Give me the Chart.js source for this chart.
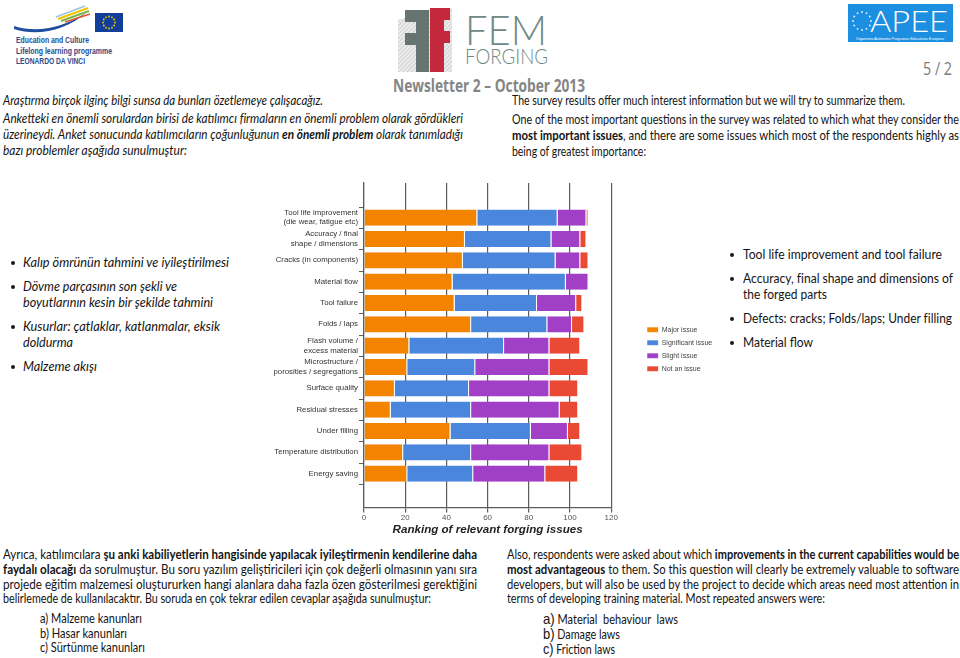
<!DOCTYPE html>
<html lang="tr">
<head>
<meta charset="utf-8">
<title>FEM Forging - Newsletter 2</title>
<script src="https://cdn.jsdelivr.net/npm/chart.js@4.4.1/dist/chart.umd.min.js"></script>
<style>
  html, body { margin: 0; padding: 0; background: #fff; }
  body { width: 960px; height: 658px; position: relative; overflow: hidden; font-family: Lato, 'Open Sans', sans-serif; color: #141414; }
  .ln { position: absolute; white-space: nowrap; font-size: 12.5px; line-height: 16px; transform-origin: 0 50%; }
  .it { font-style: italic; }
  .dot { position: absolute; width: 4px; height: 4px; border-radius: 50%; background: #1a1a1a; }
  .llp { position: absolute; left: 16px; white-space: nowrap; font: bold 8.5px 'Liberation Sans', Arial, sans-serif; line-height: 10px; color: #2b4c8c; transform-origin: 0 50%; }
  #issuesChart { position: absolute; left: 262px; top: 175px; }
</style>
</head>
<body>

<!-- logos -->
<svg style="position:absolute;left:8px;top:2px" width="120" height="34">
  <path d="M6 24 C 28 31, 52 27, 78 11 C 58 28, 30 35, 6 27 Z" fill="#1f4e9e"/>
  <path d="M50 17 L 80 6" stroke="#f2c400" stroke-width="2.2"/>
  <path d="M53 19 L 81 9" stroke="#7ab648" stroke-width="2"/>
  <path d="M57 20 L 82 12" stroke="#e4572e" stroke-width="1.6"/>
  <path d="M48 15 L 77 4" stroke="#9cc3e6" stroke-width="1.4"/>
  <rect x="87" y="11" width="28" height="19" fill="#123e99"/>
  <g fill="#f4d000" id="eustars"></g>
</svg>
<div class="llp" style="top:34.5px" data-w="73">Education and Culture</div>
<div class="llp" style="top:45.5px" data-w="96">Lifelong learning programme</div>
<div class="llp" style="top:56px" data-w="69">LEONARDO DA VINCI</div>

<svg style="position:absolute;left:396px;top:6px" width="60" height="68">
  <defs>
    <pattern id="hatch" width="3" height="3" patternUnits="userSpaceOnUse" patternTransform="rotate(45)">
      <rect width="3" height="3" fill="#ececec"/>
      <line x1="0" y1="0" x2="0" y2="3" stroke="#bdbdbd" stroke-width="1.2"/>
    </pattern>
  </defs>
  <polygon points="2,14 40,2 56,2 56,66 2,66" fill="url(#hatch)"/>
  <path d="M9 4 H33 V66 H20 V39 H9 V27 H20 V16 H9 Z" fill="#66746f"/>
  <path d="M34 2 H54 V14 H48 V25 H54 V37 H48 V66 H34 Z" fill="#c4283c"/>
</svg>
<div class="ln" style="left:465px;top:8px;font-size:42px;line-height:42px;font-weight:300;color:#6f8983" data-w="82">FEM</div>
<div class="ln" style="left:465px;top:44.5px;font-size:21px;line-height:21px;font-weight:300;color:#6f8983" data-w="83">FORGING</div>

<div class="ln" style="left:393px;top:76px;font:bold 17px 'Open Sans', sans-serif;line-height:20px;color:#858585" data-w="192">Newsletter 2 – October 2013</div>

<svg style="position:absolute;left:848px;top:4px" width="105" height="38">
  <rect width="105" height="38" fill="#1d8fe1"/>
  <g fill="#e8f4ff" id="apeestars"></g>
  <text x="52" y="35.5" font-size="3.6" fill="#ffffff" text-anchor="middle" font-family="Liberation Sans, Arial">Organismo Autónomo Programas Educativos Europeos</text>
</svg>
<div class="ln" style="left:870px;top:5px;font-size:30px;line-height:30px;font-weight:300;color:#fff" data-w="78">APEE</div>

<div class="ln" style="left:923px;top:57px;font-size:18px;line-height:22px;font-family:'Open Sans', sans-serif;color:#7b7b7b" data-w="29">5 / 2</div>

<!-- top text -->
<div class="ln it" style="left:3px;top:93px" data-w="320">Araştırma birçok ilginç bilgi sunsa da bunları özetlemeye çalışacağız.</div>
<div class="ln it" style="left:3px;top:111px" data-w="460">Anketteki en önemli sorulardan birisi de katılımcı firmaların en önemli problem olarak gördükleri</div>
<div class="ln it" style="left:3px;top:127px" data-w="460">üzerineydi. Anket sonucunda katılımcıların çoğunluğunun <b>en önemli problem</b> olarak tanımladığı</div>
<div class="ln it" style="left:3px;top:143px" data-w="184">bazı problemler aşağıda sunulmuştur:</div>

<div class="ln" style="left:512px;top:93px" data-w="393">The survey results offer much interest information but we will try to summarize them.</div>
<div class="ln" style="left:512px;top:112px" data-w="447">One of the most important questions in the survey was related to which what they consider the</div>
<div class="ln" style="left:512px;top:128px" data-w="447"><b>most important issues</b>, and there are some issues which most of the respondents highly as</div>
<div class="ln" style="left:512px;top:144px" data-w="134">being of greatest importance:</div>

<!-- bullets -->
<div class="dot" style="left:11px;top:261px"></div>
<div class="ln it" style="left:23px;top:255px" data-w="206">Kalıp ömrünün tahmini ve iyileştirilmesi</div>
<div class="dot" style="left:11px;top:285px"></div>
<div class="ln it" style="left:23px;top:279px" data-w="154">Dövme parçasının son şekli ve</div>
<div class="ln it" style="left:23px;top:295px" data-w="190">boyutlarının kesin bir şekilde tahmini</div>
<div class="dot" style="left:11px;top:325px"></div>
<div class="ln it" style="left:23px;top:319px" data-w="197">Kusurlar: çatlaklar, katlanmalar, eksik</div>
<div class="ln it" style="left:23px;top:335px" data-w="50">doldurma</div>
<div class="dot" style="left:11px;top:365px"></div>
<div class="ln it" style="left:23px;top:359px" data-w="74">Malzeme akışı</div>

<div class="dot" style="left:730px;top:253px"></div>
<div class="ln" style="left:743px;top:247px" data-w="199">Tool life improvement and tool failure</div>
<div class="dot" style="left:730px;top:277px"></div>
<div class="ln" style="left:743px;top:271px" data-w="210">Accuracy, final shape and dimensions of</div>
<div class="ln" style="left:743px;top:287px" data-w="84">the forged parts</div>
<div class="dot" style="left:730px;top:317px"></div>
<div class="ln" style="left:743px;top:311px" data-w="209">Defects: cracks; Folds/laps; Under filling</div>
<div class="dot" style="left:730px;top:341px"></div>
<div class="ln" style="left:743px;top:335px" data-w="70">Material flow</div>

<!-- bottom text -->
<div class="ln" style="left:3px;top:547px" data-w="474">Ayrıca, katılımcılara <b>şu anki kabiliyetlerin hangisinde yapılacak iyileştirmenin kendilerine daha</b></div>
<div class="ln" style="left:3px;top:562px" data-w="474"><b>faydalı olacağı</b> da sorulmuştur. Bu soru yazılım geliştiricileri için çok değerli olmasının yanı sıra</div>
<div class="ln" style="left:3px;top:577px" data-w="474">projede eğitim malzemesi oluştururken hangi alanlara daha fazla özen gösterilmesi gerektiğini</div>
<div class="ln" style="left:3px;top:591px" data-w="428">belirlemede de kullanılacaktır. Bu soruda en çok tekrar edilen cevaplar aşağıda sunulmuştur:</div>
<div class="ln" style="left:40px;top:611px" data-w="102">a) Malzeme kanunları</div>
<div class="ln" style="left:40px;top:626px" data-w="87">b) Hasar kanunları</div>
<div class="ln" style="left:40px;top:640px" data-w="105">c) Sürtünme kanunları</div>

<div class="ln" style="left:507px;top:547px" data-w="452">Also, respondents were asked about which <b>improvements in the current capabilities would be</b></div>
<div class="ln" style="left:507px;top:562px" data-w="452"><b>most advantageous</b> to them. So this question will clearly be extremely valuable to software</div>
<div class="ln" style="left:507px;top:577px" data-w="452">developers, but will also be used by the project to decide which areas need most attention in</div>
<div class="ln" style="left:507px;top:591px" data-w="318">terms of developing training material. Most repeated answers were:</div>
<div class="ln" style="left:543px;top:611px" data-w="135"><span style="font-family:'Liberation Sans';font-size:15px">a)</span> Material&nbsp; behaviour&nbsp; laws</div>
<div class="ln" style="left:543px;top:626px" data-w="77"><span style="font-family:'Liberation Sans';font-size:15px">b)</span> Damage laws</div>
<div class="ln" style="left:543px;top:641px" data-w="72"><span style="font-family:'Liberation Sans';font-size:15px">c)</span> Friction laws</div>

<canvas id="issuesChart" width="455" height="365"></canvas>

<script>
  // ---- data ----
  const issues = [
    ['Tool life improvement', '(die wear, fatigue etc)'],
    ['Accuracy / final', 'shape / dimensions'],
    'Cracks (in components)',
    'Material flow',
    'Tool failure',
    'Folds / laps',
    ['Flash volume /', 'excess material'],
    ['Microstructure /', 'porosities / segregations'],
    'Surface quality',
    'Residual stresses',
    'Under filling',
    'Temperature distribution',
    'Energy saving'
  ];
  const majorIssue       = [55, 49, 48, 43, 44, 52, 22, 21, 15, 13, 42, 19, 21];
  const significantIssue = [39, 42, 45, 55, 40, 37, 46, 33, 36, 39, 39, 33, 32];
  const slightIssue      = [14, 14, 12, 11, 19, 12, 22, 36, 39, 43, 18, 38, 35];
  const notAnIssue       = [ 1,  3,  4,  0,  3,  6, 15, 19, 14,  9,  6, 16, 16];
  const seriesNames = ['Major issue', 'Significant issue', 'Slight issue', 'Not an issue'];
  const xTicks = [0, 20, 40, 60, 80, 100, 120];

  const seriesColors = ['#f38400', '#4b86dd', '#a13fc7', '#ea4a34'];
  const seriesValues = [majorIssue, significantIssue, slightIssue, notAnIssue];

  // small star rings for the logos
  function starRing(id, cx, cy, r, n) {
    const g = document.getElementById(id);
    for (let i = 0; i < n; i++) {
      const a = i / n * Math.PI * 2;
      const c = document.createElementNS('http://www.w3.org/2000/svg', 'circle');
      c.setAttribute('cx', cx + r * Math.cos(a));
      c.setAttribute('cy', cy + r * Math.sin(a));
      c.setAttribute('r', 0.9);
      g.appendChild(c);
    }
  }
  starRing('eustars', 101, 20.5, 6, 12);
  starRing('apeestars', 14, 17, 9, 12);

  // squeeze every text line to the width it has in the newsletter
  document.querySelectorAll('[data-w]').forEach(el => {
    const w = el.getBoundingClientRect().width;
    if (w > 0) el.style.transform = 'scaleX(' + (+el.dataset.w / w).toFixed(4) + ')';
  });

  Chart.defaults.font.family = "'Liberation Sans', Arial, sans-serif";
  const axisGrey = '#5c5c5c';

  new Chart(document.getElementById('issuesChart'), {
    type: 'bar',
    data: {
      datasets: seriesValues.map((vals, k) => ({
        label: seriesNames[k],
        data: vals.map((v, i) => ({ x: v, y: i })),
        backgroundColor: seriesColors[k],
        borderColor: 'rgba(255,255,255,0.55)',
        borderWidth: { right: 1 },
        xAxisID: 'x',
        yAxisID: 'y'
      }))
    },
    options: {
      indexAxis: 'y',
      responsive: false,
      animation: false,
      layout: { padding: { top: 8, right: 0, bottom: 0, left: 0 } },
      datasets: { bar: { categoryPercentage: 1, barPercentage: 0.76 } },
      plugins: {
        tooltip: { enabled: false },
        legend: {
          position: 'right',
          fullSize: false,
          // empty title only pushes the entries down a little
          title: { display: true, text: ' ', font: { size: 6.7 }, padding: 0 },
          labels: { boxWidth: 11, boxHeight: 5, padding: 6, color: '#444', font: { size: 7 } }
        }
      },
      scales: {
        x: {
          type: 'linear', position: 'bottom', stacked: true, min: 0, max: 120,
          afterBuildTicks: s => { s.ticks = xTicks.map(v => ({ value: v })); },
          afterFit: s => { s.height = 32.5; },
          grid: { color: axisGrey, lineWidth: 1.2, tickLength: 5 },
          border: { color: axisGrey, width: 1.2 },
          ticks: { color: '#555', padding: 0, font: { size: 8 } },
          title: {
            display: true, text: 'Ranking of relevant forging issues', color: '#222',
            font: { size: 11.6, weight: 'bold', style: 'italic' }, padding: { top: 0, bottom: 3 }
          }
        },
        y: {
          type: 'linear', position: 'left', reverse: true, stacked: true, min: -1.04, max: 13,
          afterBuildTicks: s => { s.ticks = issues.map((_, i) => ({ value: i })); },
          afterFit: s => { s.width = 102; },
          grid: { drawOnChartArea: false, color: axisGrey, tickLength: 5 },
          border: { color: axisGrey, width: 1.2 },
          ticks: { autoSkip: false, padding: 1, color: '#333', font: { size: 7.8 }, callback: v => issues[v] }
        },
        // empty strip between the plot and the legend
        gap: {
          axis: 'y', position: 'right', display: true,
          grid: { display: false }, border: { display: false }, ticks: { display: false },
          afterFit: s => { s.width = 30; }
        }
      }
    }
  });
</script>
</body>
</html>
